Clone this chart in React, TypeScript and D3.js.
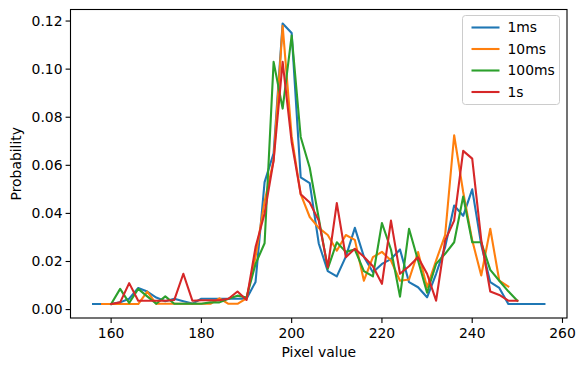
import React from 'react';
import * as d3 from 'd3';

// bin centres (pixel value) per series, step 2
const x1ms = d3.range(156, 257, 2);
const y1ms = [
  0.0023, 0.0023, 0.0023, 0.0030, 0.0045, 0.0090, 0.0075, 0.0050, 0.0035, 0.0045,
  0.0035, 0.0025, 0.0045, 0.0045, 0.0045, 0.0045, 0.0045, 0.0045, 0.0115, 0.053,
  0.065, 0.119, 0.115, 0.055, 0.0526, 0.0275, 0.016, 0.0138, 0.022, 0.034,
  0.022, 0.0155, 0.019, 0.021, 0.025, 0.0114, 0.0093, 0.0051, 0.0149, 0.026,
  0.0433, 0.039, 0.050, 0.027, 0.0114, 0.009, 0.0023, 0.0023, 0.0023, 0.0023, 0.0023
];

const x10ms = d3.range(158, 249, 2);
const y10ms = [
  0.0023, 0.0023, 0.0023, 0.0023, 0.0023, 0.0075, 0.0024, 0.0024, 0.0024, 0.0024,
  0.0024, 0.0024, 0.0024, 0.0047, 0.0024, 0.0024, 0.0047, 0.022, 0.045, 0.062,
  0.118, 0.072, 0.048, 0.0385, 0.034, 0.031, 0.0245, 0.031, 0.029, 0.012,
  0.0218, 0.024, 0.0204, 0.012, 0.0125, 0.0239, 0.0093, 0.0204, 0.031, 0.0725,
  0.0489, 0.0288, 0.0142, 0.0336, 0.012, 0.0096
];

const x100ms = d3.range(160, 251, 2);
const y100ms = [
  0.0023, 0.0086, 0.0028, 0.0086, 0.0055, 0.0024, 0.0055, 0.0024, 0.0024, 0.0024,
  0.0024, 0.0030, 0.0030, 0.0045, 0.0058, 0.0050, 0.019, 0.0276, 0.103, 0.0836,
  0.114, 0.0718, 0.059, 0.038, 0.017, 0.028, 0.024, 0.025, 0.016, 0.0138,
  0.036, 0.025, 0.0054, 0.0336, 0.0204, 0.007, 0.019, 0.0232, 0.028, 0.047,
  0.028, 0.028, 0.0165, 0.012, 0.0076, 0.0037
];

const x1s = d3.range(160, 251, 2);
const y1s = [
  0.0023, 0.0030, 0.011, 0.0037, 0.0037, 0.0037, 0.0037, 0.004, 0.0149, 0.0037,
  0.0039, 0.0039, 0.0039, 0.0045, 0.0075, 0.004, 0.026, 0.040, 0.062, 0.103,
  0.0697, 0.048, 0.0445, 0.037, 0.0176, 0.0443, 0.0218, 0.0253, 0.022, 0.018,
  0.0107, 0.037, 0.0149, 0.018, 0.0218, 0.0149, 0.0037, 0.0288, 0.037, 0.066,
  0.0628, 0.029, 0.0075, 0.0061, 0.0037, 0.0037
];

const seriesNames = ['1ms', '10ms', '100ms', '1s'];
const colors = ['#1f77b4', '#ff7f0e', '#2ca02c', '#d62728'];
const xTicks = [160, 180, 200, 220, 240, 260];
const yTicks = [0, 0.02, 0.04, 0.06, 0.08, 0.1, 0.12];

const W = 584;
const H = 371;
const FONT = '"DejaVu Sans", sans-serif';
const FS = 13.9;

export default function App() {
  const left = 70.5, right = 567, top = 9.5, bottom = 318;

  const x = d3.scaleLinear().domain([151, 261]).range([left, right]);
  const y = d3.scaleLinear().domain([-0.0035, 0.1248]).range([bottom, top]);

  const series = [
    { xs: x1ms, ys: y1ms },
    { xs: x10ms, ys: y10ms },
    { xs: x100ms, ys: y100ms },
    { xs: x1s, ys: y1s }
  ];

  const line = d3.line<[number, number]>()
    .x(d => x(d[0]))
    .y(d => y(d[1]));

  // legend box
  const lg = { x: 462.5, y: 15.5, w: 97, h: 89 };

  return (
    <svg width={W} height={H} style={{ position: 'absolute', left: 0, top: 0, background: '#fff' }}
      fontFamily={FONT}>
      <defs>
        <clipPath id="plot">
          <rect x={left} y={top} width={right - left} height={bottom - top} />
        </clipPath>
      </defs>

      <g clipPath="url(#plot)">
        {series.map((s, i) => (
          <path key={i}
            d={line(s.xs.map((v, j) => [v, s.ys[j]] as [number, number])) || ''}
            fill="none" stroke={colors[i]} strokeWidth={2.1}
            strokeLinejoin="round" strokeLinecap="square" />
        ))}
      </g>

      {/* frame */}
      <rect x={left} y={top} width={right - left} height={bottom - top}
        fill="none" stroke="#000" strokeWidth={1.1} />

      {/* x axis */}
      {xTicks.map(t => (
        <g key={t} transform={`translate(${x(t)},${bottom})`}>
          <line y1={0} y2={4.9} stroke="#000" strokeWidth={1.1} />
          <text y={20} textAnchor="middle" fontSize={FS} fill="#000">{t}</text>
        </g>
      ))}
      <text x={(left + right) / 2} y={357} textAnchor="middle" fontSize={FS} fill="#000">Pixel value</text>

      {/* y axis */}
      {yTicks.map(t => (
        <g key={t} transform={`translate(${left},${y(t)})`}>
          <line x1={0} x2={-4.9} stroke="#000" strokeWidth={1.1} />
          <text x={-8} dy="0.35em" textAnchor="end" fontSize={FS} fill="#000">{d3.format('.2f')(t)}</text>
        </g>
      ))}
      <text transform={`translate(21,${(top + bottom) / 2}) rotate(-90)`} textAnchor="middle"
        fontSize={FS} fill="#000">Probability</text>

      {/* legend */}
      <rect x={lg.x} y={lg.y} width={lg.w} height={lg.h} rx={3}
        fill="#fff" fillOpacity={0.8} stroke="#ccc" strokeWidth={1} />
      {seriesNames.map((n, i) => {
        const cy = lg.y + 12 + i * 21.5;
        return (
          <g key={n}>
            <line x1={lg.x + 9} x2={lg.x + 37} y1={cy} y2={cy} stroke={colors[i]} strokeWidth={2.1} />
            <text x={lg.x + 45} y={cy} dy="0.35em" fontSize={FS} fill="#000">{n}</text>
          </g>
        );
      })}
    </svg>
  );
}
